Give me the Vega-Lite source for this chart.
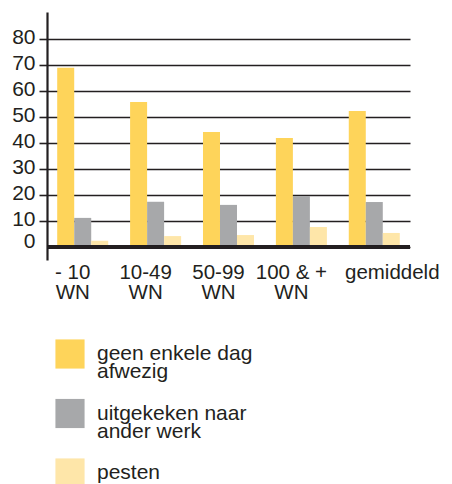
{
  "$schema": "https://vega.github.io/schema/vega-lite/v6.json",
  "autosize": {"type": "none"},
  "width": 363,
  "height": 248,
  "padding": {"left": 47, "top": 12, "right": 42, "bottom": 224},
  "background": "white",
  "config": {
    "view": {"stroke": null},
    "font": "Liberation Sans",
    "axis": {"labelFont": "Liberation Sans", "labelColor": "#231F20", "labelFontSize": 21},
    "style": {"guide-label": {"lineHeight": 18}}
  },
  "data": {
    "values": [
      {"cat": "- 10 WN", "serie": "geen enkele dag afwezig", "value": 69},
      {"cat": "- 10 WN", "serie": "uitgekeken naar ander werk", "value": 11.2},
      {"cat": "- 10 WN", "serie": "pesten", "value": 2.4},
      {"cat": "10-49 WN", "serie": "geen enkele dag afwezig", "value": 55.8},
      {"cat": "10-49 WN", "serie": "uitgekeken naar ander werk", "value": 17.4},
      {"cat": "10-49 WN", "serie": "pesten", "value": 4.2},
      {"cat": "50-99 WN", "serie": "geen enkele dag afwezig", "value": 44.2},
      {"cat": "50-99 WN", "serie": "uitgekeken naar ander werk", "value": 16.2},
      {"cat": "50-99 WN", "serie": "pesten", "value": 4.6},
      {"cat": "100 & + WN", "serie": "geen enkele dag afwezig", "value": 41.9},
      {"cat": "100 & + WN", "serie": "uitgekeken naar ander werk", "value": 19.6},
      {"cat": "100 & + WN", "serie": "pesten", "value": 7.7},
      {"cat": "gemiddeld", "serie": "geen enkele dag afwezig", "value": 52.3},
      {"cat": "gemiddeld", "serie": "uitgekeken naar ander werk", "value": 17.3},
      {"cat": "gemiddeld", "serie": "pesten", "value": 5.4}
    ]
  },
  "layer": [
    {
      "mark": {"type": "bar", "stroke": null},
      "encoding": {
        "x": {
          "field": "cat", "type": "nominal", "sort": null, "title": null,
          "scale": {"paddingInner": 0.3, "paddingOuter": 0.14},
          "axis": {
            "domain": false, "ticks": false, "labelAngle": 0, "labelPadding": 2,
            "labelFontSize": 20.5,
            "labelBaseline": "top", "labelLineHeight": 20.5, "labelOverlap": false, "labelBound": false,
            "labelOffset": {"condition": {"test": "datum.value === 'gemiddeld'", "value": 18}, "value": -10},
            "labelExpr": "datum.label === 'gemiddeld' ? 'gemiddeld' : [replace(datum.label, ' WN', ''), 'WN']"
          }
        },
        "xOffset": {
          "field": "serie", "type": "nominal",
          "sort": ["geen enkele dag afwezig", "uitgekeken naar ander werk", "pesten"],
          "scale": {"paddingInner": 0, "paddingOuter": 0}
        },
        "y": {
          "field": "value", "type": "quantitative", "title": null,
          "scale": {"domain": [-5, 90.4], "nice": false, "zero": false},
          "axis": {
            "values": [0, 10, 20, 30, 40, 50, 60, 70, 80],
            "labelOverlap": false, "labelBound": false, "labelFlush": false,
            "grid": true, "gridColor": "#231F20", "gridWidth": 1.6,
            "domain": true, "domainColor": "#231F20", "domainWidth": 2.2,
            "tickSize": 8, "tickWidth": 1.6,
            "tickColor": {"condition": {"test": "datum.value === 0", "value": "transparent"}, "value": "#231F20"},
            "labelPadding": 4,
            "labelOffset": {"condition": {"test": "datum.value === 0", "value": -6}, "value": -2}
          }
        },
        "color": {
          "field": "serie", "type": "nominal", "title": null,
          "scale": {
            "domain": ["geen enkele dag afwezig", "uitgekeken naar ander werk", "pesten"],
            "range": ["#FED45A", "#A7A8AA", "#FEE6A9"]
          },
          "legend": {
            "orient": "none", "legendX": 8, "legendY": 327, "direction": "vertical",
            "symbolType": "square", "symbolSize": 850, "symbolStrokeWidth": 0, "symbolOpacity": 1,
            "labelFont": "Liberation Sans", "labelFontSize": 21, "labelColor": "#231F20",
            "labelOffset": 12, "labelLimit": 400, "rowPadding": 16.5,
            "labelExpr": "datum.label === 'geen enkele dag afwezig' ? ['geen enkele dag', 'afwezig'] : datum.label === 'uitgekeken naar ander werk' ? ['uitgekeken naar', 'ander werk'] : datum.label"
          }
        }
      }
    },
    {
      "mark": {"type": "rule", "color": "#231F20", "strokeWidth": 2.6},
      "encoding": {
        "y": {
          "datum": 0, "type": "quantitative",
          "axis": {
            "values": [0, 10, 20, 30, 40, 50, 60, 70, 80],
            "labelOverlap": false, "labelBound": false, "labelFlush": false,
            "grid": true, "gridColor": "#231F20", "gridWidth": 1.6,
            "domain": true, "domainColor": "#231F20", "domainWidth": 2.2,
            "tickSize": 8, "tickWidth": 1.6,
            "tickColor": {"condition": {"test": "datum.value === 0", "value": "transparent"}, "value": "#231F20"},
            "labelPadding": 4,
            "labelOffset": {"condition": {"test": "datum.value === 0", "value": -6}, "value": -2}
          }
        }
      }
    }
  ]
}
